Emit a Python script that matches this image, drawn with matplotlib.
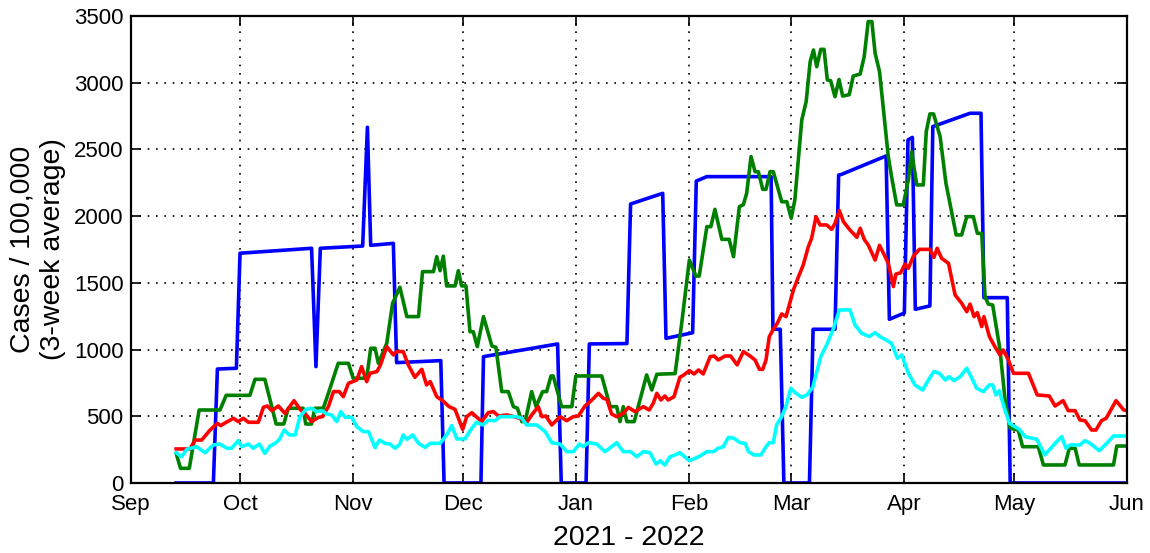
import matplotlib
matplotlib.use('Agg')
import matplotlib.pyplot as plt
import matplotlib.dates as mdates
import pandas as pd

plt.rcParams['font.family'] = ['Liberation Sans', 'DejaVu Sans']

# days after 2021-09-01, values in cases / 100,000 (3-week average)
start = pd.Timestamp('2021-09-01')

blue_days = [12.5, 22.7, 23.8, 29, 30, 49.6, 50.8, 52, 63.6, 64.9, 65.8, 72, 72.9, 85, 85.9, 96, 96.7,
             117, 118, 124.8, 125.7, 136, 137, 145.8, 146.7, 154, 155, 157.9, 175.5, 176, 178, 179,
             186, 187, 193, 194, 194.8, 207, 207.9, 212, 213, 214.2, 215, 219, 219.8, 230, 233,
             233.8, 240.2, 241, 273]
blue_vals = [0, 0, 854, 860, 1722, 1759, 872, 1759, 1776, 2666, 1781, 1796, 902, 917, 0, 0, 947,
             1042, 0, 0, 1042, 1045, 2091, 2171, 1084, 1126, 2263, 2296, 2296, 1152, 1152, 0,
             0, 1152, 1152, 2308, 2313, 2451, 1227, 1274, 2571, 2590, 1302, 1327, 2671, 2771, 2771,
             1389, 1389, 0, 0]

green_days = [12.5, 13.7, 16.1, 18.8, 24.5, 26.2, 32.7, 34.1, 36.8, 39.9, 42, 43.2, 47.3, 48, 49.6,
              50.5, 52.8, 54.2, 56.9, 59.7, 61, 64.7, 65.8, 67, 67.9, 70.2, 71.8, 73.8, 75.7, 78.9,
              80, 83, 83.9, 84.8, 85.7, 86.6, 88.9, 89.8, 90.7, 91.9, 93, 93.9, 95, 96.7, 99, 100.1,
              101.7, 103.5, 104.9, 106, 107.2, 108.1, 109.9, 111.1, 112.9, 114, 115.2, 115.8, 118.1,
              120.9, 122, 129.1, 131.4, 133.2, 134.1, 135, 136, 138, 141.4, 142.8, 144.2, 149.2,
              151, 153.1, 154.9, 155.8, 157.9, 159, 160.1, 162, 164, 165.2, 166.8, 167.9, 168.8,
              170, 171.1, 172, 173.2, 174.1, 175.2, 176.1, 178.4, 179.8, 181, 182, 183.9, 185.1,
              186.2, 187.1, 188, 189.1, 190, 190.9, 191.8, 193, 194.1, 195.1, 196.9, 198, 199.9,
              201, 202.1, 203.1, 204, 205.2, 207.6, 208.5, 209.9, 211.7, 213.1, 214, 215.4, 217.2,
              218, 219, 220, 221.8, 223.4, 226.2, 227.7, 229.1, 230.9, 232, 233.2, 234.1, 235,
              236.2, 238.2, 239.6, 241, 243.2, 244.4, 248.7, 250.1, 256, 257.2, 258.8, 259.9,
              269.3, 270.2, 273]
green_vals = [222, 110, 110, 547, 547, 657, 657, 777, 777, 442, 442, 560, 560, 442, 442,
              560, 560, 672, 897, 897, 785, 785, 1010, 1010, 897, 1047, 1347, 1467, 1247, 1247,
              1584, 1584, 1696, 1591, 1700, 1477, 1477, 1591, 1477, 1477, 1134, 1134, 1022, 1247, 1027, 1017,
              685, 685, 572, 560, 460, 460, 685, 572, 685, 685, 802, 802, 572,
              572, 802, 802, 572, 572, 460, 572, 460, 460, 810, 697, 815, 820,
              1197, 1671, 1551, 1551, 1921, 1921, 2051, 1826, 1826, 1696, 2071, 2086, 2171,
              2446, 2333, 2333, 2201, 2201, 2333, 2333, 2108, 2108, 1984, 2121, 2721, 2858,
              3158, 3245, 3120, 3250, 3250, 3020, 3015, 2895, 3024, 2900, 2910, 3050, 3065,
              3195, 3458, 3458, 3220, 3083, 2446, 2296, 2084, 2084, 2271, 2483, 2234, 2234,
              2633, 2766, 2766, 2596, 2246, 1859, 1859, 1996, 1996, 1871, 1871, 1396, 1341,
              1334, 1000, 622, 410, 397, 272, 272, 135, 135, 260, 260, 135,
              135, 277, 277]

red_days = [12.5, 16.3, 17.7, 19.5, 21.8, 23.8, 24.7, 25.9, 28.2, 29.5, 30.9, 32.3, 35, 36.4, 37.5,
            38.7, 40.5, 42.3, 44.8, 46.6, 47.8, 49.6, 51.5, 52.6, 54.2, 55.6, 57.2, 58.3, 59.7, 60.9,
            62, 63.3, 64.7, 65.6, 67.5, 68.4, 70.2, 72, 72.9, 74.7, 76.1, 77.9, 79.8, 81.1, 82.1,
            83.9, 85.5, 87.3, 88.9, 91, 92.1, 93.5, 96.2, 98, 99.4, 100.8, 103.1, 105.8, 107.5,
            108.5, 109.9, 111.7, 112.7, 113.8, 115.4, 117.7, 119.5, 121.3, 122.7, 124.5, 126.4,
            128.2, 129.5, 130.5, 131.8, 133.2, 135, 136.4, 138.2, 140.5, 142.1, 143.2, 144.2,
            145.3, 146.4, 147.3, 148.9, 150.5, 151.6, 153.1, 154.4, 155.6, 156.9, 158.8, 159.9,
            161, 162.9, 164.4, 166.2, 167.9, 169.7, 171.1, 172.3, 173.2, 174.1, 175, 176.1, 177.2,
            178.4, 179.6, 181.6, 183, 184.3, 185.7, 186.6, 187.8, 188.9, 190.7, 192.1, 193, 194.2,
            195.3, 197.1, 199, 199.9, 201, 202.1, 204, 205.2, 206.2, 207.6, 209, 209.7, 211, 212.2,
            213.1, 214.5, 216.1, 219, 220.1, 221, 222.2, 224.1, 225.9, 227.7, 229.1, 230, 231.1,
            232, 233.2, 233.8, 235.3, 236.8, 238.2, 239.1, 240.5, 241.9, 246, 248.4, 251.7, 253.3,
            255.5, 256.9, 258.8, 260.1, 261.5, 263.3, 264.5, 266, 267.3, 270, 272.1, 273]
red_vals = [255, 255, 322, 322, 397, 447, 430, 450, 485, 460, 485, 455, 455, 567, 577,
            542, 577, 522, 617, 547, 522, 460, 492, 497, 572, 685, 685, 647, 747, 760,
            772, 872, 760, 822, 835, 880, 1022, 960, 985, 985, 885, 792, 852, 735, 760,
            647, 617, 572, 552, 402, 497, 527, 460, 527, 535, 502, 510, 492, 477,
            452, 510, 572, 497, 502, 435, 497, 467, 497, 502, 577, 622,
            672, 635, 627, 517, 497, 522, 567, 535, 572, 547, 597, 672,
            622, 652, 622, 647, 792, 810, 842, 817, 847, 817, 947, 952,
            922, 952, 952, 885, 985, 952, 922, 852, 852, 922, 1097, 1152, 1197,
            1267, 1247, 1447, 1546, 1634, 1771, 1834, 1996, 1934, 1934, 1901, 1946, 2041,
            1959, 1896, 1841, 1909, 1826, 1784, 1671, 1781, 1726, 1646, 1472, 1566, 1576, 1641,
            1609, 1701, 1751, 1751, 1691, 1759, 1684, 1646, 1409, 1347, 1284, 1341, 1247,
            1277, 1172, 1247, 1097, 1022, 960, 997, 922, 822, 822, 660, 652, 577,
            617, 542, 542, 472, 467, 397, 397, 467, 485, 617, 547, 542]

cyan_days = [12.5, 14, 15.4, 18.1, 20.4, 22.7, 24.5, 26.4, 27.7, 29.5, 30.5, 32.3, 33.6, 35.3, 36.8,
             38.2, 39.6, 40.8, 42.1, 43.5, 45.1, 46.4, 48.1, 49.6, 51, 52.4, 53.8, 55.1, 56.5, 57.6,
             58.8, 60.6, 62, 63.8, 65.2, 67, 68.2, 69.7, 71.1, 72.5, 73.8, 74.7, 75.7, 77.3, 78.9,
             80.7, 82.1, 84.8, 86.6, 88, 89.4, 91.6, 93.5, 94.8, 96.5, 98, 99.9, 101.2, 105.8,
             107.2, 108.5, 111.3, 113.6, 115.4, 117.7, 119.5, 121.3, 123, 124.1, 125.4, 127.7, 130,
             131.8, 133.2, 135, 137, 138.7, 140.5, 142.3, 144, 145.1, 146.4, 147.8, 149.2, 150.5,
             151.6, 153.1, 154.7, 156, 157.9, 159.7, 161, 162.4, 163.8, 165.3, 167, 168.4, 169.3,
             170.8, 172.7, 174.1, 175, 176.1, 177, 178.4, 179.6, 180.9, 182.1, 183.9, 185.3, 186.9,
             188.4, 189.1, 190.7, 192.6, 194.2, 197.1, 198.5, 200.3, 202.4, 204, 205.3, 207, 208.5,
             210.1, 211.3, 213.1, 214.9, 217, 218.6, 220.1, 221.6, 223.2, 224.3, 225.6, 227.3,
             229.1, 230.5, 231.8, 233.6, 235.3, 236.2, 237.1, 238, 239.3, 240.8, 242.3, 243.5,
             245.1, 248.3, 250.5, 253.3, 255.1, 256.3, 257.4, 260.1, 261.5, 262.9, 265.4, 267,
             269.3, 273]
cyan_vals = [227, 197, 252, 272, 227, 285, 292, 260, 260, 317, 272, 292, 260, 292, 222,
             277, 297, 327, 397, 360, 360, 497, 552, 560, 535, 542, 517, 510, 460, 535,
             492, 492, 422, 385, 385, 265, 322, 297, 292, 260, 292, 360, 327, 360, 297,
             267, 297, 297, 360, 430, 330, 330, 410, 455, 435, 470, 467, 497, 497,
             485, 435, 435, 385, 302, 292, 235, 235, 292, 272, 302, 292, 235,
             272, 302, 235, 235, 197, 235, 227, 142, 167, 135, 197, 210, 227,
             202, 167, 185, 202, 235, 235, 260, 272, 342, 335, 302, 297, 235,
             210, 210, 272, 302, 302, 435, 497, 577, 710, 677, 642, 660, 717,
             872, 947, 1034, 1159, 1297, 1297, 1184, 1122, 1097, 1127, 1097, 1072, 1047,
             935, 960, 822, 735, 697, 772, 835, 822, 772, 797, 767, 797,
             860, 785, 710, 685, 735, 735, 660, 692, 572, 447, 422, 402,
             347, 327, 210, 297, 347, 260, 285, 285, 317, 297, 242, 285,
             352, 352]


def to_dates(days):
    return start + pd.to_timedelta(days, unit='D')


fig = plt.figure(figsize=(11.5, 5.53), dpi=100)
ax = fig.add_axes([0.1135, 0.1266, 0.8665, 0.8445])

ax.plot(to_dates(blue_days), blue_vals, color='#0000ff', lw=2.6)
ax.plot(to_dates(green_days), green_vals, color='#008000', lw=2.6)
ax.plot(to_dates(red_days), red_vals, color='#ff0000', lw=2.6)
ax.plot(to_dates(cyan_days), cyan_vals, color='#00ffff', lw=2.6)

ax.set_xlim(start, pd.Timestamp('2022-06-01'))
ax.set_ylim(0, 3500)
ax.set_xticks(pd.date_range('2021-09-01', '2022-06-01', freq='MS'))
ax.xaxis.set_major_formatter(mdates.DateFormatter('%b'))
ax.set_yticks(range(0, 3501, 500))

ax.grid(True, color='black', linestyle=(0, (1, 4)), linewidth=1.2)
ax.tick_params(direction='in', top=True, right=True, length=7, width=1.2,
               labelsize=16)
ax.tick_params(axis='x', pad=8)
ax.tick_params(axis='y', pad=5)
for sp in ax.spines.values():
    sp.set_linewidth(1.6)

ax.set_xlabel('2021 - 2022', fontsize=20.5, labelpad=7)
ax.set_ylabel('Cases / 100,000\n(3-week average)', fontsize=20.5, labelpad=6)

fig.savefig('out.png', dpi=100)
